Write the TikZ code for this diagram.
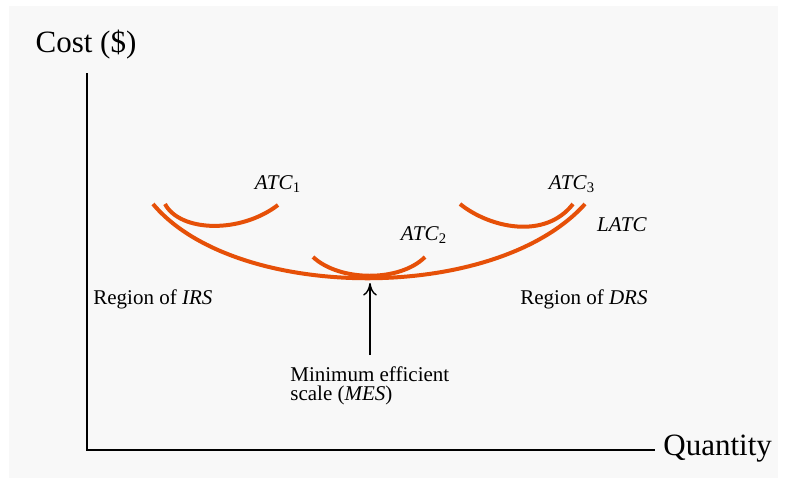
\documentclass[tikz,border=0pt]{standalone}
\usepackage{fontspec}
\setmainfont{Liberation Serif}
\usetikzlibrary{arrows.meta}

\definecolor{costorange}{RGB}{230,80,8}
\definecolor{panelgray}{RGB}{248,248,248}

\begin{document}
\begin{tikzpicture}[x=0.5pt,y=-0.5pt]
\tikzset{
  costcurve/.style={draw=costorange,line width=2pt},
  axisline/.style={draw=black,line width=1pt},
  biglabel/.style={inner sep=0pt,font=\fontsize{15.5}{18}\selectfont},
  smalllabel/.style={inner sep=0pt,font=\fontsize{10.5}{12}\selectfont},
  pointer/.style={-{To[length=2.2mm,width=2.4mm]},line width=0.7pt}
}
\useasboundingbox (0,0) rectangle (787,483);
\fill[panelgray] (9,6) rectangle (778,478);
% axes
\coordinate (c_top) at (87,73);
\coordinate (c_origin) at (87,450);
\coordinate (c_right) at (655,450);
\draw[axisline] (c_top) -- (c_origin) -- (c_right);
\node[biglabel] (n_cost) at (86,45) {Cost (\$)};
\node[biglabel,anchor=west] (n_qty) at (663,449) {Quantity};
% long-run curve
\draw[costcurve] (153,204) .. controls (235,302) and (495,304) .. (585,204);
% short-run curves
\draw[costcurve] (165,204) .. controls (180,232) and (240,234) .. (278,205);
\draw[costcurve] (313,257) .. controls (340,282) and (400,282) .. (425,257);
\draw[costcurve] (460,204) .. controls (490,228) and (545,240) .. (573,204);
% labels
\node[smalllabel] (n_atc1) at (278,184) {\textit{ATC}\textsubscript{1}};
\node[smalllabel] (n_atc2) at (424,235) {\textit{ATC}\textsubscript{2}};
\node[smalllabel] (n_atc3) at (572,184) {\textit{ATC}\textsubscript{3}};
\node[smalllabel] (n_latc) at (622,225) {\textit{LATC}};
\node[smalllabel,anchor=west] (n_irs) at (93,299) {Region of \textit{IRS}};
\node[smalllabel,anchor=west] (n_drs) at (520,299) {Region of \textit{DRS}};
\node[smalllabel,anchor=north west,align=left,font=\fontsize{10.5}{9.6}\selectfont] (n_mes) at (290,366)
  {Minimum efficient\\scale (\textit{MES})};
\coordinate (c_base) at (370,355);
\coordinate (c_min) at (370,283);
\draw[pointer] (c_base) -- (c_min);
\end{tikzpicture}
\end{document}
